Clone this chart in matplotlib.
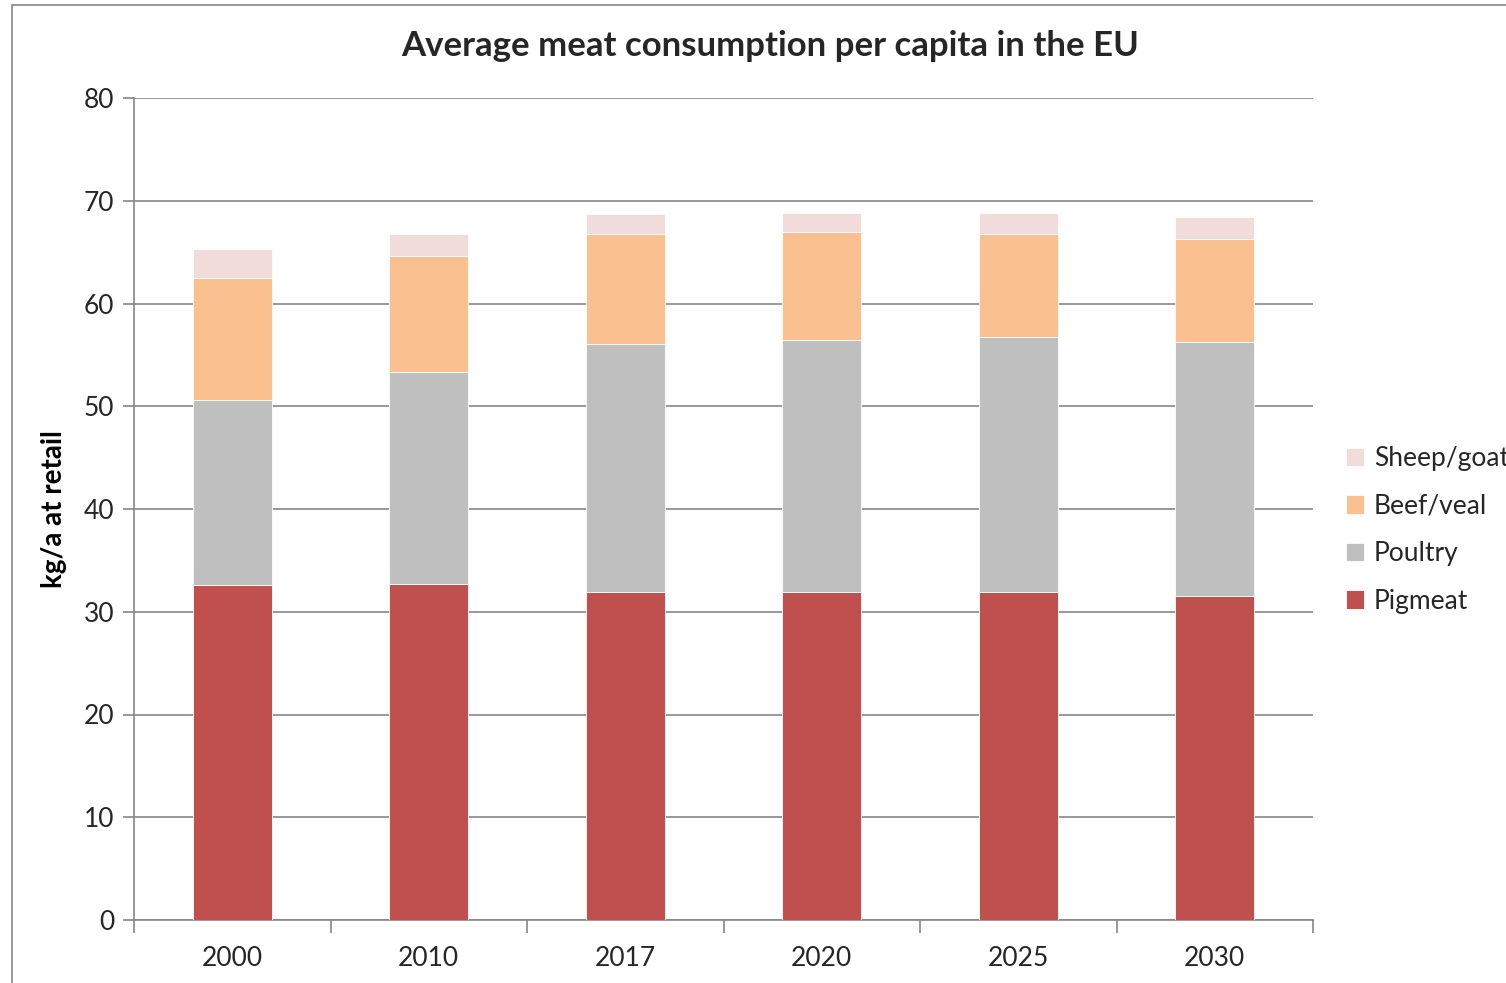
import matplotlib
matplotlib.use("Agg")
import matplotlib.pyplot as plt
import numpy as np
from matplotlib.patches import Rectangle

plt.rcParams['font.family'] = ['Lato', 'DejaVu Sans']

years = ["2000", "2010", "2017", "2020", "2025", "2030"]
pigmeat = [32.6, 32.7, 31.9, 31.9, 31.9, 31.5]
poultry = [18.0, 20.6, 24.2, 24.5, 24.8, 24.8]
beef_veal = [11.9, 11.3, 10.7, 10.6, 10.1, 10.0]
sheep_goat = [2.8, 2.2, 1.9, 1.8, 2.0, 2.1]
y_ticks = [0, 10, 20, 30, 40, 50, 60, 70, 80]

series = [
    ("Pigmeat", pigmeat, "#C0504D"),
    ("Poultry", poultry, "#BFBFBF"),
    ("Beef/veal", beef_veal, "#FAC090"),
    ("Sheep/goat", sheep_goat, "#F2DCDB"),
]

W, H = 1506, 983
fig = plt.figure(figsize=(W / 100, H / 100), dpi=100)
ax = fig.add_axes([134 / W, (H - 920) / H, (1313 - 134) / W, (920 - 98) / H])

x = np.arange(len(years))
bottom = np.zeros(len(years))
handles = []
for name, vals, color in series:
    b = ax.bar(x, vals, width=0.40, bottom=bottom, color=color,
               edgecolor="white", linewidth=0.6, label=name, zorder=3)
    handles.append(b)
    bottom += np.array(vals)

ax.set_xlim(-0.5, len(years) - 0.5)
ax.set_ylim(0, 80)
ax.set_yticks(y_ticks)
ax.set_yticklabels([str(v) for v in y_ticks], fontsize=19, color="#262626")
ax.set_xticks(x)
ax.set_xticklabels(years, fontsize=19, color="#262626")
ax.tick_params(axis="x", length=0, pad=19)
ax.tick_params(axis="y", length=8, color="#868686", width=1.2, pad=6)

# category boundary ticks below the x axis
ax.set_xticks(np.arange(-0.5, len(years) + 0.5, 1.0), minor=True)
ax.tick_params(axis="x", which="minor", length=9, color="#868686", width=1.2, direction="out")

ax.grid(axis="y", color="#868686", linewidth=1.2, zorder=0)
for side in ["top", "right"]:
    ax.spines[side].set_visible(False)
for side in ["left", "bottom"]:
    ax.spines[side].set_color("#868686")
    ax.spines[side].set_linewidth(1.2)

ax.set_ylabel("kg/a at retail", fontsize=20, fontweight="bold", color="#000000", labelpad=12)

fig.text(770 / W, 1 - 46 / H, "Average meat consumption per capita in the EU",
         ha="center", va="center", fontsize=25, fontweight="bold", color="#262626")

leg = fig.legend(handles[::-1], [s[0] for s in series][::-1],
                 loc="center left", bbox_to_anchor=(1346 / W, 1 - 530 / H),
                 frameon=False, fontsize=19, handlelength=0.7, handleheight=0.7,
                 labelspacing=0.85, handletextpad=0.35, borderaxespad=0,
                 borderpad=0)
for t in leg.get_texts():
    t.set_color("#262626")

# outer chart frame
fig.patches.append(Rectangle((12 / W, -0.1), 1.2, 1 + 0.1 - 5 / H,
                             transform=fig.transFigure, fill=False,
                             edgecolor="#868686", linewidth=1.2))

fig.savefig("out.png", dpi=100)
